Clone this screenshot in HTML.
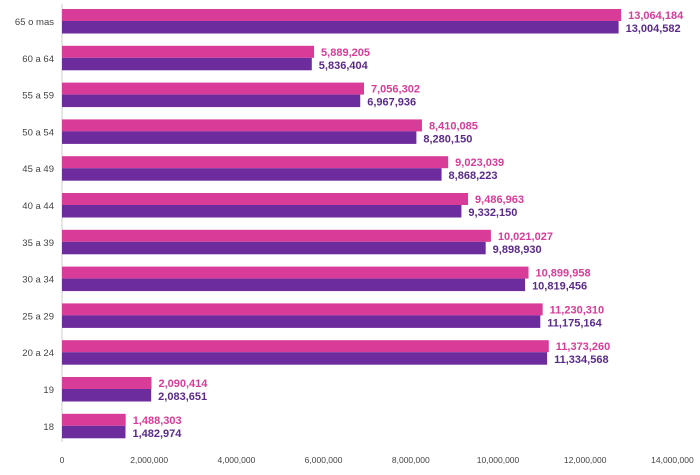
<!DOCTYPE html>
<html><head><meta charset="utf-8"><style>
body{margin:0;background:#fff;width:700px;height:470px;overflow:hidden}
svg{font-family:"Liberation Sans",sans-serif}
</style></head><body>
<svg id="c" width="700" height="470"></svg>
<script>
const categories=["65 o mas","60 a 64","55 a 59","50 a 54","45 a 49","40 a 44","35 a 39","30 a 34","25 a 29","20 a 24","19","18"];
const seriesA=[13064184,5889205,7056302,8410085,9023039,9486963,10021027,10899958,11230310,11373260,2090414,1488303];
const seriesB=[13004582,5836404,6967936,8280150,8868223,9332150,9898930,10819456,11175164,11334568,2083651,1482974];
const ticks=[0,2000000,4000000,6000000,8000000,10000000,12000000,14000000];
const svg=document.getElementById('c');const NS="http://www.w3.org/2000/svg";
const x0=62,pxPerUnit=42.8/1e6,tickPx=43.6/1e6;
function xs(v){return x0+v*pxPerUnit;}
function xt(v){return x0+v*tickPx;}
function ys(i){return 21+i*36.8;}
function mk(t,a){const e=document.createElementNS(NS,t);for(const k in a)e.setAttribute(k,a[k]);svg.appendChild(e);return e;}
const fmt=v=>v.toLocaleString('en-US');
const ax=mk('line',{x1:x0,y1:4,x2:x0,y2:442,stroke:'#ccc','stroke-width':1});


categories.forEach((c,i)=>{
 const y=ys(i);
 const l=mk('text',{x:54,y:y+4,'text-anchor':'end','font-size':9.5,fill:'#444'});l.textContent=c;
 
 
 const a=mk('rect',{x:x0,y:y-12,width:xs(seriesA[i])-x0,height:12,fill:'#d93b98'});
 
 
 const b=mk('rect',{x:x0,y:y,width:xs(seriesB[i])-x0,height:12.5,fill:'#6c2c9e'});
 
 
 const ta=mk('text',{x:xs(seriesA[i])+7,y:y-2,'font-size':11,'font-weight':'bold',fill:'#d93b98'});ta.textContent=fmt(seriesA[i]);
 
 
 const tb=mk('text',{x:xs(seriesB[i])+7,y:y+11,'font-size':11,'font-weight':'bold',fill:'#5a2a8a'});tb.textContent=fmt(seriesB[i]);
 
 
});
ticks.forEach(t=>{
 const e=mk('text',{x:xt(t),y:463,'text-anchor':'middle','font-size':8.5,fill:'#444'});e.textContent=fmt(t);
 
 
});
</script>
</body></html>
